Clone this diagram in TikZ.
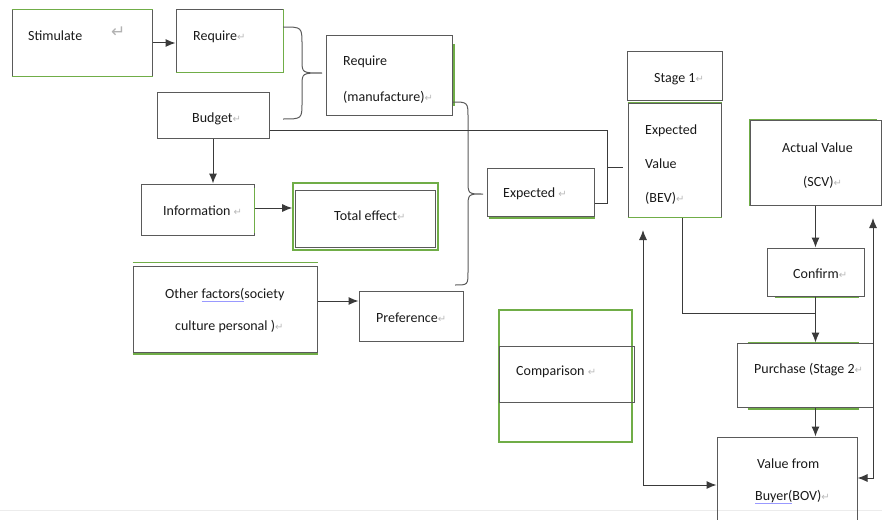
\documentclass[tikz,border=0pt]{standalone}
\usepackage{fontspec}
\setmainfont{Carlito}
\newfontfamily\markfont{DejaVu Sans}
\usetikzlibrary{arrows.meta}
\definecolor{edgegray}{HTML}{5A5A5A}
\definecolor{linkgray}{HTML}{3A3A3A}
\definecolor{wordgreen}{HTML}{70AD47}
\newcommand{\pmark}{{\markfont\color{gray!55}\fontsize{10}{10}\selectfont ↵}}
\newsavebox{\spellbox}
\newcommand{\spellu}[1]{\sbox{\spellbox}{#1}\rlap{\textcolor{blue!40}{\rule[-0.35ex]{\wd\spellbox}{0.6pt}}}\usebox{\spellbox}}
\begin{document}
\begin{tikzpicture}[x=1pt,y=-1pt,
    box/.style={draw=edgegray, line width=1pt, inner sep=0pt},
    lbl/.style={anchor=west, inner sep=0pt, text=black!90, font=\fontsize{14}{17}\selectfont},
    link/.style={draw=linkgray, line width=1pt},
    arr/.style={link, -{Latex[length=10pt,width=8pt]}},
    accent/.style={draw=wordgreen, line width=1.6pt}]
  \useasboundingbox (0,0) rectangle (882,519);
  \clip (0,0) rectangle (882,519);
  \draw[gray!15, line width=1pt] (0,510) -- (882,510);
  % boxes
  \node[box, minimum width=140pt, minimum height=66pt] (stim) at (82,43) {};
  \node[box, minimum width=107pt, minimum height=62pt] (req) at (229.5,41) {};
  \node[box, minimum width=112pt, minimum height=46pt] (budget) at (213,115) {};
  \node[box, minimum width=126pt, minimum height=79pt] (reqm) at (389,75.5) {};
  \node[box, minimum width=113pt, minimum height=51pt] (info) at (197.5,209.5) {};
  \node[box, draw=wordgreen, line width=1.6pt, minimum width=145pt, minimum height=67pt] (total) at (365.5,216.5) {};
  \node[box, minimum width=140pt, minimum height=57pt] (totalin) at (365,218.5) {};
  \node[box, minimum width=184pt, minimum height=86pt] (other) at (225,309) {};
  \node[box, minimum width=104pt, minimum height=50pt] (pref) at (411,316) {};
  \node[box, minimum width=107pt, minimum height=48pt] (expd) at (540.5,192) {};
  \node[box, minimum width=95pt, minimum height=48pt] (stage) at (674.5,76) {};
  \node[box, minimum width=93pt, minimum height=114pt] (bev) at (674.5,160) {};
  \node[box, minimum width=131pt, minimum height=85pt] (scv) at (815.5,162.5) {};
  \node[box, minimum width=97pt, minimum height=48pt] (confirm) at (815.5,272) {};
  \node[box, minimum width=136pt, minimum height=64pt] (purch) at (805,375) {};
  \node[box, minimum width=140pt, minimum height=93pt] (bov) at (787,483.5) {};
  \node[box, draw=wordgreen, line width=1.6pt, minimum width=133pt, minimum height=132pt] (comp) at (565.5,376) {};
  \node[box, minimum width=135pt, minimum height=56pt] (compin) at (566.5,374) {};
  % green edges
  \draw[accent] (stim.north west) -- (stim.north east);
  \draw[accent] (stim.south west) -- (stim.south east);
  \draw[accent] (req.north east) -- (req.south east) -- (req.south west);
  \draw[accent] ([xshift=1.5pt,yshift=-9pt]reqm.north east) -- ([xshift=1.5pt,yshift=10pt]reqm.south east);
  \draw[accent] ([yshift=-4pt]info.north east) -- ([yshift=3pt]info.south east);
  \draw[accent] ([yshift=3pt]other.north west) -- ([yshift=3pt]other.north east);
  \draw[accent] ([yshift=-1.5pt]other.south west) -- ([yshift=-1.5pt]other.south east);
  \draw[accent] ([xshift=2pt,yshift=-1.5pt]expd.south west) -- ([yshift=-1.5pt]expd.south east);
  \draw[accent] (bev.north west) -- (bev.north east);
  \draw[accent] (bev.south west) -- (bev.south east);
  \draw[accent] (scv.south west) -- (scv.north west) -- ([xshift=-5pt]scv.north east);
  \draw[accent] ([xshift=8pt,yshift=-1pt]confirm.south west) -- ([xshift=-6pt,yshift=-1pt]confirm.south east);
  \draw[accent] ([xshift=11pt]purch.north west) -- ([xshift=-15pt]purch.north east);
  \draw[accent] ([xshift=11pt,yshift=-1.5pt]purch.south west) -- ([xshift=-15pt,yshift=-1.5pt]purch.south east);
  % braces
  \draw[link, draw=edgegray] (283,27) .. controls (302,27) .. (302,45) -- (302,60)
    .. controls (302,73) .. (322,73) .. controls (302,73) .. (302,86) -- (302,102)
    .. controls (302,119) .. (283,119);
  \draw[link, draw=edgegray] (452,102) .. controls (468,102) .. (468,118) -- (468,180)
    .. controls (468,194) .. (483,194) .. controls (468,194) .. (468,208) -- (468,271)
    .. controls (468,285) .. (455,285);
  % connectors
  \coordinate (join) at (607,167);
  \coordinate (meet) at (815,313);
  \coordinate (ltop) at (643,230);
  \coordinate (rtop) at (873,218);
  \draw[arr] (stim.east) -- (stim.east -| req.west);
  \draw[arr] (budget.south) -- (budget.south |- info.north);
  \draw[arr] ([yshift=1.5pt]info.east) -- ([yshift=1.5pt]info.east -| total.west);
  \draw[arr] ([yshift=8pt]other.east) -- ([yshift=8pt]other.east -| pref.west);
  \draw[link] ([yshift=-15pt]budget.east) -| (join) |- ([yshift=-11pt]expd.east);
  \draw[link] (join) -- ([xshift=-5pt]join -| bev.west);
  \draw[link] ([xshift=7.5pt]bev.south) |- (meet);
  \draw[arr] (scv.south) -- (scv.south |- confirm.north);
  \draw[arr] (confirm.south) -- (confirm.south |- purch.north);
  \draw[arr] (confirm.south |- purch.south) -- (confirm.south |- bov.north);
  \draw[arr, {Latex[length=10pt,width=8pt]}-{Latex[length=10pt,width=8pt]}] (ltop) |- ([yshift=-1.5pt]bov.west);
  \draw[arr, {Latex[length=10pt,width=8pt]}-{Latex[length=10pt,width=8pt]}] (rtop) |- ([yshift=5.5pt]bov.east);
  % texts
  \node[lbl] (stimtxt) at (28,36) {Stimulate};
  \node[lbl, text=gray!60, font=\markfont\fontsize{17}{17}\selectfont] (stimmark) at (111,32) {↵};
  \node[lbl] (reqtxt) at (193,37) {Require\pmark};
  \node[lbl] (budtxt) at (192,119) {Budget\pmark};
  \node[lbl] (reqmtxt) at (343,62) {Require};
  \node[lbl] (reqmtxt2) at (343,97) {(manufacture)\pmark};
  \node[lbl] (infotxt) at (163,211) {Information \pmark};
  \node[lbl] (totaltxt) at (334,216) {Total effect\pmark};
  \node[lbl] (othertxt) at (165,295) {Other \spellu{factors(}society};
  \node[lbl] (othertxt2) at (175,327) {culture personal )\pmark};
  \node[lbl] (preftxt) at (376,318) {Preference\pmark};
  \node[lbl] (expdtxt) at (503,194) {Expected \pmark};
  \node[lbl] (stagetxt) at (654,79) {Stage 1\pmark};
  \node[lbl] (bevtxt) at (645,131) {Expected};
  \node[lbl] (bevtxt2) at (645,164) {Value};
  \node[lbl] (bevtxt3) at (645,198) {(BEV)\pmark};
  \node[lbl] (scvtxt) at (782,148) {Actual Value};
  \node[lbl] (scvtxt2) at (803,182) {(SCV)\pmark};
  \node[lbl] (conftxt) at (793,274) {Confirm\pmark};
  \node[lbl] (purchtxt) at (754,370) {Purchase (Stage 2\pmark};
  \node[lbl] (comptxt) at (516,372) {Comparison \pmark};
  \node[lbl] (bovtxt) at (757,464) {Value from};
  \node[lbl] (bovtxt2) at (755,497) {\spellu{Buyer(}BOV)\pmark};
\end{tikzpicture}
\end{document}
